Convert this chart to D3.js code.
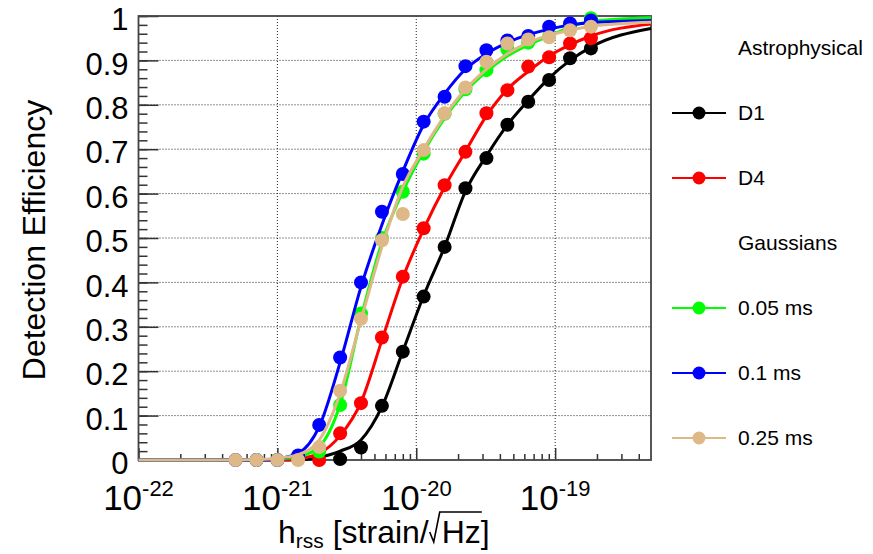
<!DOCTYPE html>
<html>
<head>
<meta charset="utf-8">
<script src="https://cdn.jsdelivr.net/npm/d3@7"></script>
<style>
  body { margin: 0; background: #fff; }
  svg { display: block; }
  text { font-family: 'Liberation Sans', Arial, Helvetica, sans-serif; fill: #000; }
</style>
</head>
<body>
<div id="chart"></div>
<script>
(function () {
  // injected amplitudes (markers), sqrt(2) steps
  const hrss = [5.0e-22, 7.07e-22, 1.0e-21, 1.41e-21, 2.0e-21, 2.83e-21, 4.0e-21, 5.66e-21, 8.0e-21,
    1.13e-20, 1.6e-20, 2.26e-20, 3.2e-20, 4.53e-20, 6.4e-20, 9.05e-20, 1.28e-19, 1.81e-19];
  // x positions for the fitted curves: axis start, the amplitudes, axis end
  const fitHrss = [1e-22].concat(hrss, [4.9e-19]);

  const seriesNames = ['D1', 'D4', '0.05 ms', '0.1 ms', '0.25 ms'];
  const seriesColors = ['#000000', '#ff0000', '#00ff00', '#0000ff', '#deb887'];

  // measured efficiencies (null = not shown)
  const effD1 = [null, null, null, null, null, 0.002, 0.028, 0.122, 0.244, 0.368, 0.48, 0.612, 0.68, 0.755, 0.807, 0.856, 0.905, 0.927];
  const effD4 = [null, null, null, null, 0.0, 0.06, 0.128, 0.276, 0.413, 0.522, 0.619, 0.694, 0.781, 0.833, 0.886, 0.907, 0.938, 0.95];
  const effG005 = [null, 0, 0, 0.007, 0.019, 0.124, 0.33, 0.5, 0.604, 0.69, 0.78, 0.835, 0.878, 0.925, 0.94, 0.955, 0.975, 0.995];
  const effG01 = [0, 0, 0, 0.01, 0.079, 0.231, 0.4, 0.559, 0.644, 0.762, 0.818, 0.887, 0.923, 0.945, 0.955, 0.976, 0.983, 0.99];
  const effG025 = [0, 0, 0, 0, 0.029, 0.156, 0.318, 0.495, 0.554, 0.698, 0.781, 0.839, 0.897, 0.938, 0.947, 0.952, 0.968, 0.976];

  // fitted curves, read at fitHrss
  const fitD1 = [0, 0, 0, 0, 0, 0.006, 0.02, 0.045, 0.12, 0.245, 0.37, 0.48, 0.605, 0.685, 0.755, 0.81, 0.86, 0.9, 0.93, 0.972];
  const fitD4 = [0, 0, 0, 0, 0.003, 0.015, 0.055, 0.13, 0.27, 0.41, 0.52, 0.615, 0.695, 0.775, 0.835, 0.875, 0.91, 0.935, 0.955, 0.982];
  const fitG005 = [0, 0, 0, 0.002, 0.007, 0.03, 0.125, 0.32, 0.49, 0.605, 0.695, 0.77, 0.83, 0.875, 0.91, 0.935, 0.955, 0.975, 0.988, 0.996];
  const fitG01 = [0, 0, 0, 0.003, 0.015, 0.075, 0.22, 0.39, 0.53, 0.65, 0.755, 0.825, 0.88, 0.915, 0.94, 0.958, 0.97, 0.98, 0.985, 0.99];
  const fitG025 = [0, 0, 0.001, 0.004, 0.012, 0.045, 0.15, 0.315, 0.48, 0.615, 0.7, 0.775, 0.835, 0.88, 0.915, 0.94, 0.957, 0.968, 0.977, 0.986];

  const effs = [effD1, effD4, effG005, effG01, effG025];
  const fits = [fitD1, fitD4, fitG005, fitG01, fitG025];

  const yTicks = [0, 0.1, 0.2, 0.3, 0.4, 0.5, 0.6, 0.7, 0.8, 0.9, 1];
  const xDecades = [1e-22, 1e-21, 1e-20, 1e-19];
  const xExponents = ['-22', '-21', '-20', '-19'];
  const legendHeaders = { 0: 'Astrophysical', 3: 'Gaussians' };

  const width = 873, height = 554;
  const margin = { top: 16, right: 222, bottom: 94, left: 138.5 };
  const plotW = width - margin.left - margin.right;
  const plotH = height - margin.top - margin.bottom;

  const x = d3.scaleLog().domain([1e-22, 4.9e-19]).range([0, plotW]);
  const y = d3.scaleLinear().domain([0, 1]).range([plotH, 0]);

  const svg = d3.select('#chart').append('svg')
    .attr('width', width).attr('height', height);
  const g = svg.append('g').attr('transform', `translate(${margin.left},${margin.top})`);

  // grid
  g.append('g').selectAll('line').data(yTicks.slice(1, -1)).join('line')
    .attr('x1', 0).attr('x2', plotW)
    .attr('y1', (d) => y(d)).attr('y2', (d) => y(d))
    .attr('stroke', '#222').attr('stroke-width', 1).attr('stroke-dasharray', '1,2');
  g.append('g').selectAll('line').data(xDecades.slice(1)).join('line')
    .attr('x1', (d) => x(d)).attr('x2', (d) => x(d))
    .attr('y1', 0).attr('y2', plotH)
    .attr('stroke', '#222').attr('stroke-width', 1).attr('stroke-dasharray', '1,2');

  // y ticks inside the frame
  const yMinor = d3.range(0, 1.0001, 0.02);
  g.append('g').call(d3.axisRight(y).tickValues(yMinor).tickSize(9).tickFormat(''))
    .call((s) => s.select('.domain').remove())
    .selectAll('line').attr('stroke', '#333').attr('stroke-width', 1.5);
  g.append('g').call(d3.axisRight(y).tickValues(yTicks).tickSize(20).tickFormat(''))
    .call((s) => s.select('.domain').remove())
    .selectAll('line').attr('stroke', '#333').attr('stroke-width', 1.5);
  g.append('g').call(d3.axisLeft(y).tickValues(yTicks).tickSize(0).tickPadding(10)
      .tickFormat((d) => String(+d.toFixed(1))))
    .call((s) => s.select('.domain').remove())
    .selectAll('text')
    .attr('dy', '0.44em')
    .style('font-size', '31px')
    .style('font-family', "'Liberation Sans', Arial, sans-serif")
    .attr('fill', '#000');

  // x ticks pointing up from the bottom
  const xMinor = [];
  xDecades.forEach((dec) => {
    for (let m = 2; m <= 9; m++) if (dec * m <= 4.9e-19) xMinor.push(dec * m);
  });
  const xAxisG = g.append('g').attr('transform', `translate(0,${plotH})`);
  xAxisG.append('g').call(d3.axisTop(x).tickValues(xMinor).tickSize(6).tickFormat(''))
    .call((s) => s.select('.domain').remove())
    .selectAll('line').attr('stroke', '#333').attr('stroke-width', 1.5);
  xAxisG.append('g').call(d3.axisTop(x).tickValues(xDecades).tickSize(12).tickFormat(''))
    .call((s) => s.select('.domain').remove())
    .selectAll('line').attr('stroke', '#333').attr('stroke-width', 1.5);

  const xLabels = xAxisG.append('g').selectAll('text').data(xDecades).join('text')
    .attr('x', (d) => x(d))
    .attr('y', 50)
    .attr('text-anchor', 'middle');
  xLabels.append('tspan').style('font-size', '35px').text('10');
  xLabels.append('tspan').style('font-size', '22px').attr('dy', -14)
    .text((d, i) => xExponents[i]);

  // frame
  g.append('rect')
    .attr('x', 0).attr('y', 0).attr('width', plotW).attr('height', plotH)
    .attr('fill', 'none').attr('stroke', '#444').attr('stroke-width', 1.8);

  // fitted curves and markers
  const line = d3.line()
    .x((d) => x(d[0]))
    .y((d) => y(d[1]))
    .curve(d3.curveMonotoneX);

  seriesNames.forEach((name, i) => {
    const color = seriesColors[i];
    const fitPts = fitHrss.map((h, j) => [h, fits[i][j]]);
    const pts = hrss.map((h, j) => [h, effs[i][j]]).filter((d) => d[1] !== null);

    g.append('path')
      .datum(fitPts)
      .attr('d', line)
      .attr('fill', 'none')
      .attr('stroke', color)
      .attr('stroke-width', 3)
      .attr('stroke-linejoin', 'round');

    g.append('g').selectAll('circle').data(pts).join('circle')
      .attr('cx', (d) => x(d[0]))
      .attr('cy', (d) => y(d[1]))
      .attr('r', 7)
      .attr('fill', color);
  });

  // axis titles
  svg.append('text')
    .attr('transform', `translate(45,${margin.top + plotH / 2 + 2}) rotate(-90)`)
    .attr('text-anchor', 'middle')
    .style('font-size', '32px')
    .text('Detection Efficiency');

  const base = 543;
  const xt = svg.append('text')
    .attr('x', 278).attr('y', base)
    .style('font-size', '32px');
  xt.append('tspan').text('h');
  xt.append('tspan').style('font-size', '21px').attr('dy', 5).text('rss');
  xt.append('tspan').attr('dy', -5).text(' [strain/');
  xt.append('tspan').attr('dx', 13).text('Hz');
  xt.append('tspan').text(']');
  const node = xt.node();
  const slashEnd = node.getEndPositionOfChar(12).x;
  const hzEnd = node.getEndPositionOfChar(14).x;
  svg.append('path')
    .attr('d', `M${slashEnd + 1},${base - 11} L${slashEnd + 5},${base - 1} L${slashEnd + 11},${base - 31} L${hzEnd + 1},${base - 31}`)
    .attr('fill', 'none').attr('stroke', '#000').attr('stroke-width', 1.6);

  // legend
  const legend = svg.append('g');
  const rows = [];
  let s = 0;
  for (let r = 0; r < 7; r++) {
    if (legendHeaders[r]) rows.push({ label: legendHeaders[r], series: null });
    else { rows.push({ label: seriesNames[s], series: s }); s++; }
  }
  const rowY = d3.scalePoint().domain(d3.range(rows.length)).range([48, 438]);
  rows.forEach((row, r) => {
    const yy = rowY(r);
    if (row.series !== null) {
      legend.append('line')
        .attr('x1', 672).attr('x2', 726).attr('y1', yy).attr('y2', yy)
        .attr('stroke', seriesColors[row.series]).attr('stroke-width', 2);
      legend.append('circle')
        .attr('cx', 699).attr('cy', yy).attr('r', 6.5)
        .attr('fill', seriesColors[row.series]);
    }
    legend.append('text')
      .attr('x', 738).attr('y', yy + 7)
      .style('font-size', '21px')
      .text(row.label);
  });
})();
</script>
</body>
</html>
